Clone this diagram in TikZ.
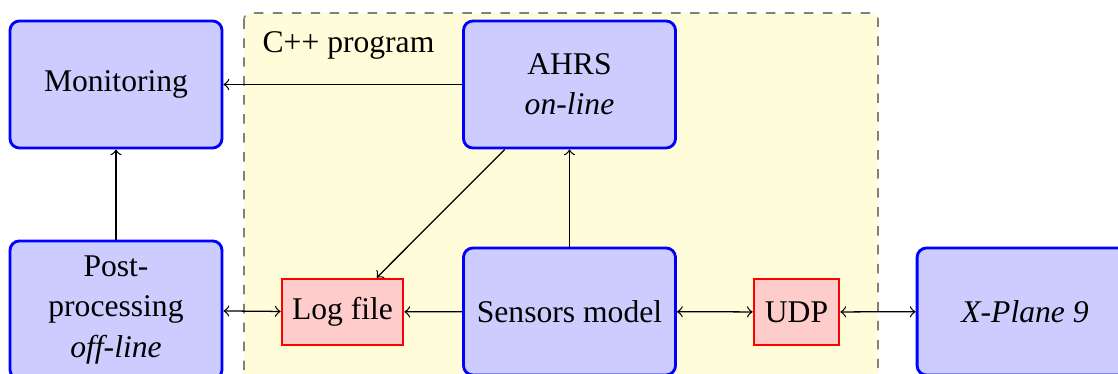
\documentclass[tikz,border=0pt]{standalone}
\usepackage{fontspec}
\setmainfont{Liberation Serif}
\begin{document}
\begin{tikzpicture}[x={(0.3164pt,0)},y={(0,-0.3164pt)},
  blk/.style={draw=blue,fill=blue!20,line width=0.9pt,rounded corners=3pt,align=center,inner sep=2pt,minimum width=67.1pt,minimum height=40.2pt,font=\fontsize{10pt}{12.7pt}\selectfont},
  rbox/.style={draw=red,fill=red!20,line width=0.8pt,inner sep=2pt,minimum height=20.9pt,font=\fontsize{10pt}{12.7pt}\selectfont},
  con/.style={->,line width=0.4pt},
  bicon/.style={<->,line width=0.4pt}]
\useasboundingbox (0,0) rectangle (1118,373);
\begin{scope}
\clip (0,0) rectangle (1118,373);
\draw[gray,dashed,fill=yellow!15,rounded corners=2pt,line width=0.5pt] (244,13) rectangle (878,420);
\node[anchor=west,font=\fontsize{10pt}{12pt}\selectfont,inner sep=0pt] (cpp) at (262,45) {C++ program};
\node[blk] (mon) at (116,84.5) {Monitoring};
\node[blk,minimum height=43.7pt] (post) at (116,310) {Post-\\processing\\\textit{off-line}};
\node[blk] (ahrs) at (569.5,84.5) {AHRS\\\textit{on-line}};
\node[blk] (sens) at (569.5,311.5) {Sensors model};
\node[blk,minimum width=68.3pt] (xp) at (1025,311.5) {\textit{X-Plane 9}};
\node[rbox,minimum width=38.3pt] (log) at (342.5,312) {Log file};
\node[rbox,minimum width=26.9pt] (udp) at (796.5,312) {UDP};
\draw[con] (ahrs) -- (mon);
\draw[con] (post) -- (mon);
\draw[bicon] (post) -- (log);
\draw[con] (sens) -- (log);
\draw[con] (ahrs) -- (log);
\draw[con] (sens) -- (ahrs);
\draw[bicon] (sens) -- (udp);
\draw[bicon] (udp) -- (xp);
\end{scope}
\end{tikzpicture}
\end{document}
